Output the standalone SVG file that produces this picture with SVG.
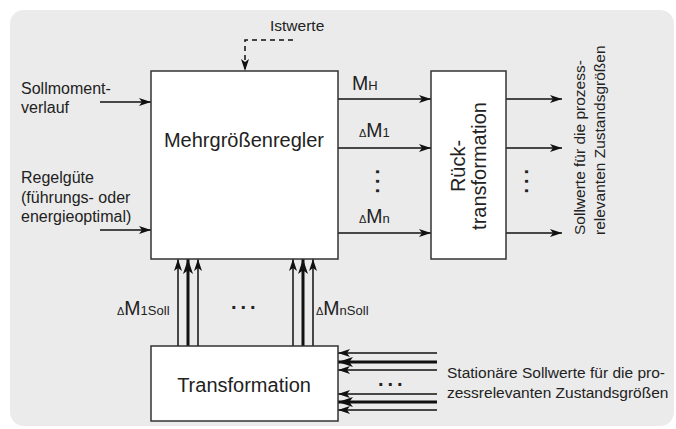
<svg xmlns="http://www.w3.org/2000/svg" width="676" height="429" viewBox="0 0 676 429">
<style>
text{font-family:"Liberation Sans",Arial,sans-serif;fill:#222}
.box{fill:#fff;stroke:#333;stroke-width:1.5}
.ln{stroke:#111;stroke-width:1.5;fill:none}
.tk{stroke:#111;stroke-width:3;fill:none}
.t15{font-size:15.5px}
.t16{font-size:16px}
.t18{font-size:19.5px}
.sub{font-size:13px}
.dl{font-size:11px}
.dots{font-size:20px;font-weight:bold;letter-spacing:4px}
</style>
<defs>
<marker id="a" viewBox="0 0 12 8" refX="12" refY="4" markerWidth="12" markerHeight="8" markerUnits="userSpaceOnUse" orient="auto"><path d="M0,0 L12,4 L0,8 L3,4 z" fill="#111"/></marker>
<marker id="b" viewBox="0 0 12 8" refX="12" refY="4" markerWidth="15" markerHeight="10" markerUnits="userSpaceOnUse" orient="auto"><path d="M0,0 L12,4 L0,8 L3,4 z" fill="#111"/></marker>
</defs>
<rect x="10" y="10" width="664" height="416" rx="14" fill="#ebebeb"/>

<g id="connectors">
<path class="ln" d="M293,40 H245 V71" stroke-dasharray="5,4" marker-end="url(#a)"/>
<line class="ln" x1="100" y1="102" x2="151" y2="102" marker-end="url(#a)"/>
<line class="ln" x1="100" y1="230" x2="151" y2="230" marker-end="url(#a)"/>
<line class="ln" x1="338" y1="99" x2="431" y2="99" marker-end="url(#a)"/>
<line class="ln" x1="338" y1="148" x2="431" y2="148" marker-end="url(#a)"/>
<line class="ln" x1="338" y1="233" x2="431" y2="233" marker-end="url(#a)"/>
<line class="ln" x1="506" y1="99" x2="562" y2="99" marker-end="url(#a)"/>
<line class="ln" x1="506" y1="148" x2="562" y2="148" marker-end="url(#a)"/>
<line class="ln" x1="506" y1="233" x2="562" y2="233" marker-end="url(#a)"/>
<line class="ln" x1="178" y1="346" x2="178" y2="259" marker-end="url(#a)"/>
<line class="tk" x1="188" y1="346" x2="188" y2="259" marker-end="url(#b)"/>
<line class="ln" x1="198" y1="346" x2="198" y2="259" marker-end="url(#a)"/>
<line class="ln" x1="293" y1="346" x2="293" y2="259" marker-end="url(#a)"/>
<line class="tk" x1="303" y1="346" x2="303" y2="259" marker-end="url(#b)"/>
<line class="ln" x1="313" y1="346" x2="313" y2="259" marker-end="url(#a)"/>
<line class="ln" x1="437" y1="353" x2="338" y2="353" marker-end="url(#a)"/>
<line class="tk" x1="437" y1="362" x2="338" y2="362" marker-end="url(#b)"/>
<line class="ln" x1="437" y1="370" x2="338" y2="370" marker-end="url(#a)"/>
<line class="ln" x1="437" y1="394" x2="338" y2="394" marker-end="url(#a)"/>
<line class="tk" x1="437" y1="402" x2="338" y2="402" marker-end="url(#b)"/>
<line class="ln" x1="437" y1="410" x2="338" y2="410" marker-end="url(#a)"/>
</g>

<g id="regler">
<rect class="box" x="151" y="71" width="187" height="188"/>
<text x="244" y="147" font-size="20" text-anchor="middle">Mehrgrößenregler</text>
</g>
<g id="ruecktransformation">
<rect class="box" x="431" y="71" width="75" height="188"/>
<text transform="translate(465,166) rotate(-90)" font-size="20" text-anchor="middle">Rück-</text>
<text transform="translate(486,166) rotate(-90)" font-size="20" text-anchor="middle">transformation</text>
</g>
<g id="transformation">
<rect class="box" x="151" y="346" width="187" height="75"/>
<text x="244" y="392" font-size="20" text-anchor="middle">Transformation</text>
</g>

<g id="labels">
<text class="t15" x="270" y="31">Istwerte</text>
<text class="t16" x="21" y="94">Sollmoment-</text>
<text class="t16" x="21" y="113">verlauf</text>
<text class="t16" x="21" y="183">Regelgüte</text>
<text class="t16" x="21" y="203">(führungs- oder</text>
<text class="t16" x="21" y="222">energieoptimal)</text>
<text x="352" y="90"><tspan class="t18">M</tspan><tspan class="sub">H</tspan></text>
<text x="359" y="137"><tspan class="dl">Δ</tspan><tspan class="t18">M</tspan><tspan class="sub">1</tspan></text>
<text x="359" y="223"><tspan class="dl">Δ</tspan><tspan class="t18">M</tspan><tspan class="sub">n</tspan></text>
<text class="dots" transform="translate(376,169) rotate(90)">...</text>
<text class="dots" transform="translate(525,169) rotate(90)">...</text>
<text class="dots" x="231" y="309">...</text>
<text class="dots" x="378" y="386">...</text>
<text x="117" y="315"><tspan class="dl">Δ</tspan><tspan class="t18">M</tspan><tspan class="sub">1Soll</tspan></text>
<text x="316" y="315"><tspan class="dl">Δ</tspan><tspan class="t18">M</tspan><tspan class="sub">nSoll</tspan></text>
<text class="t15" transform="translate(585,235) rotate(-90)">Sollwerte für die prozess-</text>
<text class="t15" transform="translate(605,235) rotate(-90)">relevanten Zustandsgrößen</text>
<text class="t15" x="447" y="378">Stationäre Sollwerte für die pro-</text>
<text class="t15" x="447" y="398">zessrelevanten Zustandsgrößen</text>
</g>
</svg>
